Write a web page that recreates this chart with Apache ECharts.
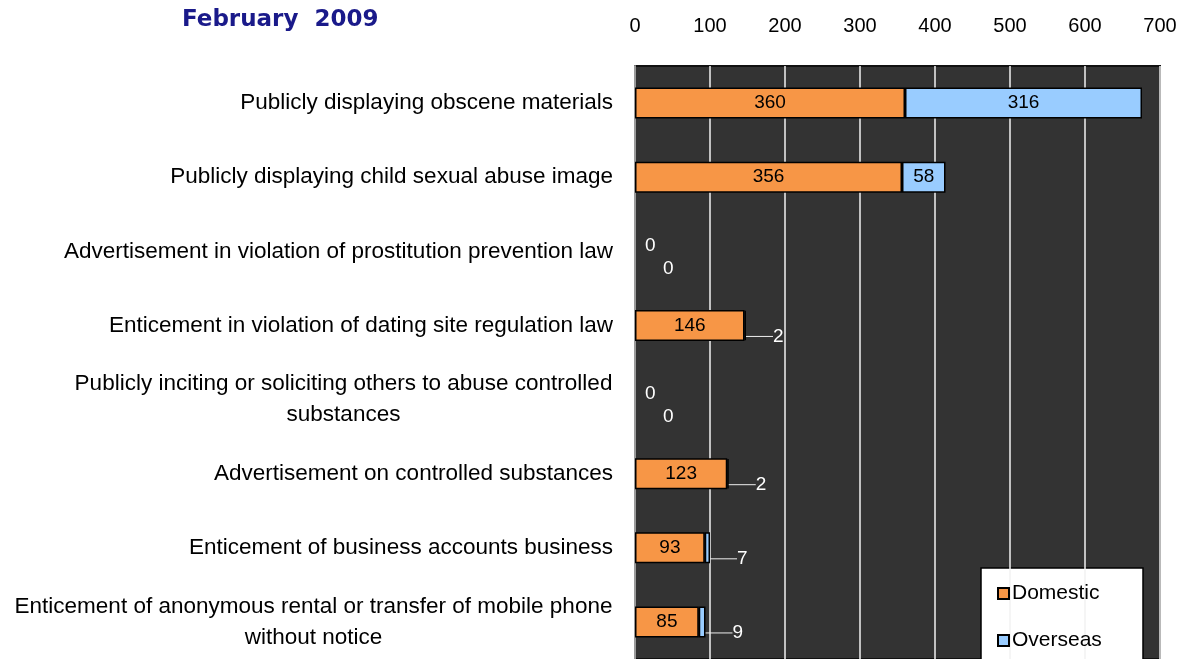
<!DOCTYPE html>
<html>
<head>
<meta charset="utf-8">
<script src="https://cdn.jsdelivr.net/npm/echarts@6/dist/echarts.min.js"></script>
<style>
  html, body { margin: 0; padding: 0; background: #fff; }
  #main { width: 1184px; height: 659px; }
</style>
</head>
<body>
<div id="main"></div>
<script>
// categories, top to bottom
var categories = [
  'Publicly displaying obscene materials',
  'Publicly displaying child sexual abuse image',
  'Advertisement in violation of prostitution prevention law',
  'Enticement in violation of dating site regulation law',
  'Publicly inciting or soliciting others to abuse controlled\nsubstances',
  'Advertisement on controlled substances',
  'Enticement of business accounts business',
  'Enticement of anonymous rental or transfer of mobile phone\nwithout notice'
];
var domestic = [360, 356, 0, 146, 0, 123, 93, 85];
var overseas = [316, 58, 0, 2, 0, 2, 7, 9];
var xTicks = [0, 100, 200, 300, 400, 500, 600, 700];

var labelFont = '"Liberation Sans", Arial, sans-serif';
var catSize = 22.5;

// wrapped labels: centre the lines under the widest one
var ctx = document.createElement('canvas').getContext('2d');
ctx.font = catSize + 'px ' + labelFont;
function lineWidth(s) { return Math.ceil(ctx.measureText(s).width) + 1; }

var rich = {};
var catText = categories.map(function (c, i) {
  var lines = c.split('\n');
  if (lines.length === 1) return c;
  var key = 'w' + i;
  rich[key] = {
    fontSize: catSize, fontFamily: labelFont, color: '#000', lineHeight: 31,
    align: 'center', width: Math.max.apply(null, lines.map(lineWidth))
  };
  return lines.map(function (l) { return '{' + key + '|' + l + '}'; }).join('\n');
});

var chart = echarts.init(document.getElementById('main'));

function barItem(v, small) {
  if (v === 0) {
    return { value: v, itemStyle: { borderWidth: 0 }, label: { position: 'right', color: '#fff' } };
  }
  if (small && v < 30) {
    return { value: v, label: { position: 'right', color: '#fff' }, labelLine: { show: true } };
  }
  return v;
}

var labelStyle = {
  show: true,
  position: 'inside',
  color: '#000',
  fontSize: 19,
  fontFamily: labelFont
};

var legendText = { fontSize: 21, color: '#000', fontFamily: labelFont, padding: [0, 0, 0, -2] };

chart.setOption({
  animation: false,
  title: {
    text: 'February  2009',
    left: 177,
    top: 4,
    textStyle: { color: '#1a1a8a', fontSize: 23, fontWeight: 'bold', fontFamily: '"DejaVu Sans", sans-serif' }
  },
  legend: [
    {
      left: 997, top: 583, padding: 0,
      itemWidth: 11, itemHeight: 11, icon: 'rect',
      textStyle: legendText,
      data: ['Domestic']
    },
    {
      left: 997, top: 630, padding: 0,
      itemWidth: 11, itemHeight: 11, icon: 'rect',
      textStyle: legendText,
      data: ['Overseas']
    }
  ],
  graphic: [{
    type: 'rect',
    z: 0,
    shape: { x: 981, y: 568, width: 162, height: 110 },
    style: { fill: '#fff', stroke: '#000', lineWidth: 1.5 }
  }],
  grid: {
    left: 635,
    top: 66,
    width: 525,
    height: 600,
    show: true,
    backgroundColor: '#333333',
    borderColor: '#111',
    borderWidth: 2
  },
  xAxis: {
    type: 'value',
    position: 'top',
    min: 0,
    max: 700,
    interval: 100,
    axisLine: { show: false },
    axisTick: { show: false },
    axisLabel: {
      margin: 30,
      fontSize: 20,
      color: '#000',
      fontFamily: labelFont,
      formatter: function (v) { return xTicks.indexOf(v) >= 0 ? String(v) : ''; }
    },
    splitLine: { show: true, lineStyle: { color: '#f2f2f2', width: 1.5 } }
  },
  yAxis: {
    type: 'category',
    inverse: true,
    data: categories,
    axisTick: { show: false },
    axisLine: { show: true, lineStyle: { color: '#9a9a9a', width: 2 } },
    axisLabel: {
      margin: 22,
      fontSize: catSize,
      color: '#000',
      fontFamily: labelFont,
      lineHeight: 31,
      formatter: function (v, i) { return catText[i]; },
      rich: rich
    }
  },
  series: [
    {
      name: 'Domestic',
      type: 'bar',
      stack: 'total',
      barWidth: 31,
      data: domestic.map(function (v) { return barItem(v, false); }),
      itemStyle: { color: '#F79646', borderColor: '#000', borderWidth: 1.5 },
      label: labelStyle,
      labelLayout: function (p) {
        if (domestic[p.dataIndex] === 0) return { dx: 5, dy: -6 };
      }
    },
    {
      name: 'Overseas',
      type: 'bar',
      stack: 'total',
      barWidth: 31,
      data: overseas.map(function (v) { return barItem(v, true); }),
      itemStyle: { color: '#99CCFF', borderColor: '#000', borderWidth: 1.5 },
      label: labelStyle,
      labelLayout: function (p) {
        var v = overseas[p.dataIndex];
        if (v === 0) return { dx: 23, dy: 17 };
        if (v < 30) return { dx: 22, dy: 11 };
      },
      labelLine: { show: false, lineStyle: { color: '#eee', width: 1 } }
    }
  ]
});
</script>
</body>
</html>
